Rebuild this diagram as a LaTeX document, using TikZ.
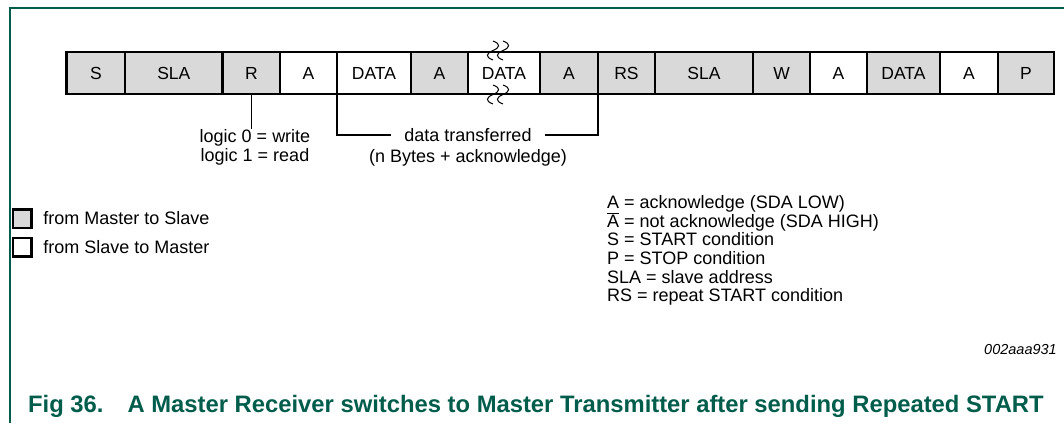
\documentclass[tikz,border=0pt]{standalone}
\usepackage{fontspec}
\setmainfont{Liberation Sans}
\usepackage{tikz}
\usepackage{xcolor}
\usetikzlibrary{positioning}

\definecolor{figgreen}{RGB}{0,92,75}
\definecolor{boxgrey}{RGB}{217,217,217}

\begin{document}
\begin{tikzpicture}[x=1pt,y=-1pt,
  field/.style={draw,line width=2.5pt,minimum height=42pt,inner sep=0pt,outer sep=0pt,font=\fontsize{17.5}{19}\selectfont},
  mts/.style={field,fill=boxgrey},
  stm/.style={field,fill=white},
  legbox/.style={draw,line width=2.5pt,minimum size=18.5pt,inner sep=0pt,outer sep=0pt,fill=white},
  lbl/.style={inner sep=0pt,font=\fontsize{18}{19}\selectfont},
  brk/.style={line width=1pt},
  bracket/.style={line width=2.5pt}]
\useasboundingbox (0,0) rectangle (1064,423);
\draw[figgreen,line width=1.5pt] (10,423) -- (10,8) -- (1064,8);

% frame row
\node[mts,minimum width=58.3pt] (s) at (95.85,73) {S};
\node[mts,minimum width=97.7pt] (sla1) at (173.85,73) {SLA};
\node[mts,minimum width=57.3pt] (r) at (251.35,73) {R};
\node[stm,minimum width=57pt] (a1) at (308.5,73) {A};
\node[stm,minimum width=74pt] (d1) at (374,73) {DATA};
\node[mts,minimum width=57pt] (a2) at (439.5,73) {A};
\node[stm,minimum width=72pt] (d2) at (504,73) {DATA};
\node[mts,minimum width=58pt] (a3) at (569,73) {A};
\node[mts,minimum width=57pt] (rs) at (626.5,73) {RS};
\node[mts,minimum width=98pt] (sla2) at (704,73) {SLA};
\node[mts,minimum width=57pt] (w) at (781.5,73) {W};
\node[stm,minimum width=57pt] (a4) at (838.5,73) {A};
\node[mts,minimum width=73pt] (d3) at (903.5,73) {DATA};
\node[stm,minimum width=58pt] (a5) at (969,73) {A};
\node[mts,minimum width=56pt] (p) at (1026,73) {P};

% break marks
\draw[brk] (493,41) .. controls +(8,3) and +(7,-3) .. (493,50.5) .. controls +(-7,3) and +(-8,-3) .. (493,60);
\draw[brk] (503,41) .. controls +(8,3) and +(7,-3) .. (503,50.5) .. controls +(-7,3) and +(-8,-3) .. (503,60);
\draw[brk] (493,85) .. controls +(8,3) and +(7,-3) .. (493,94.5) .. controls +(-7,3) and +(-8,-3) .. (493,104);
\draw[brk] (503,85) .. controls +(8,3) and +(7,-3) .. (503,94.5) .. controls +(-7,3) and +(-8,-3) .. (503,104);

% notes under the row
\node[lbl,align=center,anchor=north] (logic) at (255,129) {logic 0 = write\\logic 1 = read};
\draw[line width=1pt] (r.south) -- (r.south |- logic.north);
\node[lbl] (xfer) at (468,135) {data transferred};
\node[lbl] (nbytes) at (468,158) {(n Bytes + acknowledge)};
\draw[bracket] (d1.south west) |- ([xshift=-13pt]xfer.west);
\draw[bracket] ([xshift=13pt]xfer.east) -| (a3.south east);

% key
\node[legbox,fill=boxgrey] (kmts) at (22,218.5) {};
\node[legbox] (kstm) at (22,247) {};
\node[lbl,right=12pt of kmts] (kmtstxt) {from Master to Slave};
\node[lbl,right=12pt of kstm] (kstmtxt) {from Slave to Master};

\node[lbl,anchor=base west] (abbr1) at (607,208) {A = acknowledge (SDA LOW)};
\node[lbl,anchor=base west] (abbr2) at (607,227) {$\overline{\mbox{A}}$ = not acknowledge (SDA HIGH)};
\node[lbl,anchor=base west] (abbr3) at (607,245.5) {S = START condition};
\node[lbl,anchor=base west] (abbr4) at (607,264) {P = STOP condition};
\node[lbl,anchor=base west] (abbr5) at (607,283) {SLA = slave address};
\node[lbl,anchor=base west] (abbr6) at (607,301.5) {RS = repeat START condition};

\node[inner sep=0pt,anchor=base east,font=\fontsize{14.5}{17}\selectfont\itshape] (code) at (1057,354) {002aaa931};
\node[inner sep=0pt,anchor=base west,text=figgreen,font=\fontsize{23.8}{26}\selectfont\bfseries] (title) at (28,412.5)
  {Fig 36.\hspace{24pt}A Master Receiver switches to Master Transmitter after sending Repeated START};
\end{tikzpicture}
\end{document}
